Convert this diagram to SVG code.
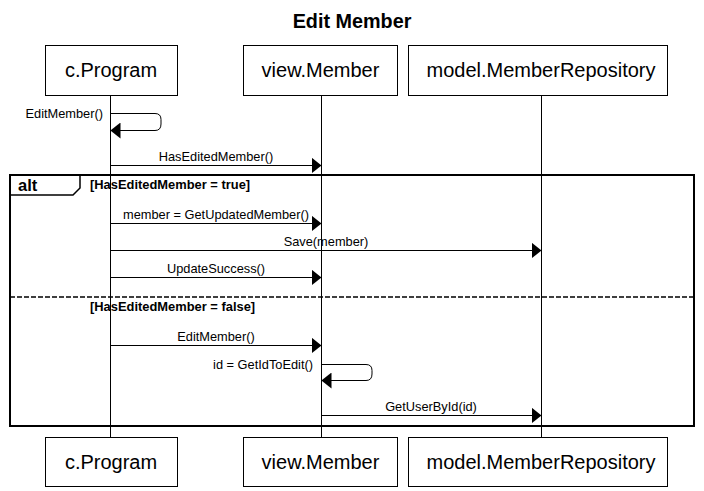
<svg xmlns="http://www.w3.org/2000/svg" width="704" height="491" viewBox="0 0 704 491">
<defs>
<style>
.box{fill:#fff;stroke:#000;stroke-width:1}
.pt{font-family:"Liberation Sans",Arial,sans-serif;font-size:20px;text-anchor:middle;fill:#000}
.life{stroke:#000;stroke-width:1}
.msg{stroke:#000;stroke-width:1;fill:none}
.ml{font-family:"Liberation Sans",Arial,sans-serif;font-size:12.8px;fill:#000;text-anchor:middle}
.guard{font-family:"Liberation Sans",Arial,sans-serif;font-size:12.9px;font-weight:bold;fill:#000}
</style>
<marker id="ah" viewBox="0 0 10 16" refX="10" refY="8" markerWidth="10" markerHeight="16" markerUnits="userSpaceOnUse" orient="auto">
<path d="M0,0 L10,8 L0,16 Z" fill="#000"/>
</marker>
</defs>
<rect width="704" height="491" fill="#fff"/>
<text x="352" y="28" font-family="Liberation Sans,Arial,sans-serif" font-size="19.8" font-weight="bold" text-anchor="middle">Edit Member</text>

<g id="lifelines">
<line class="life" x1="110.5" y1="95" x2="110.5" y2="437"/>
<line class="life" x1="321.5" y1="95" x2="321.5" y2="437"/>
<line class="life" x1="541.5" y1="95" x2="541.5" y2="437"/>
</g>

<g id="cProgram">
<rect class="box" x="45.5" y="45.5" width="132" height="50"/>
<text class="pt" x="111" y="77">c.Program</text>
</g>
<g id="viewMember">
<rect class="box" x="243.5" y="45.5" width="154" height="50"/>
<text class="pt" x="320.5" y="77">view.Member</text>
</g>
<g id="modelMemberRepository">
<rect class="box" x="408.5" y="45.5" width="259" height="50"/>
<text class="pt" x="541" y="77">model.MemberRepository</text>
</g>
<g id="cProgramBottom">
<rect class="box" x="45.5" y="437.5" width="132" height="49"/>
<text class="pt" x="111" y="469">c.Program</text>
</g>
<g id="viewMemberBottom">
<rect class="box" x="243.5" y="437.5" width="154" height="49"/>
<text class="pt" x="320.5" y="469">view.Member</text>
</g>
<g id="modelMemberRepositoryBottom">
<rect class="box" x="408.5" y="437.5" width="259" height="49"/>
<text class="pt" x="541" y="469">model.MemberRepository</text>
</g>

<g id="altFrame">
<rect x="10" y="175" width="684" height="251" fill="none" stroke="#000" stroke-width="2"/>
<path d="M10,175 L80,175 L80,188 L73,195 L10,195" fill="none" stroke="#000" stroke-width="1.5"/>
<text x="18" y="191" font-family="Liberation Sans,Arial,sans-serif" font-size="16.5" font-weight="bold">alt</text>
<text class="guard" x="90" y="189">[HasEditedMember = true]</text>
<line x1="10" y1="297" x2="694" y2="297" stroke="#000" stroke-width="1.5" stroke-dasharray="5,2"/>
<text class="guard" x="90" y="311">[HasEditedMember = false]</text>
</g>

<g id="connectors">
<path class="msg" d="M110.5,113.5 H155 Q161,113.5 161,119.5 V124 Q161,130.5 155,130.5 H110.5" marker-end="url(#ah)"/>
<text class="ml" x="103" y="118" style="text-anchor:end">EditMember()</text>

<line class="msg" x1="110.5" y1="165.5" x2="321.5" y2="165.5" marker-end="url(#ah)"/>
<text class="ml" x="216" y="161">HasEditedMember()</text>

<line class="msg" x1="110.5" y1="223.5" x2="321.5" y2="223.5" marker-end="url(#ah)"/>
<text class="ml" x="216" y="219">member = GetUpdatedMember()</text>

<line class="msg" x1="110.5" y1="250.5" x2="541.5" y2="250.5" marker-end="url(#ah)"/>
<text class="ml" x="326" y="246">Save(member)</text>

<line class="msg" x1="110.5" y1="277.5" x2="321.5" y2="277.5" marker-end="url(#ah)"/>
<text class="ml" x="216" y="273">UpdateSuccess()</text>

<line class="msg" x1="110.5" y1="345.5" x2="321.5" y2="345.5" marker-end="url(#ah)"/>
<text class="ml" x="216" y="341">EditMember()</text>

<path class="msg" d="M321.5,364.5 H366 Q372,364.5 372,370.5 V374 Q372,380.5 366,380.5 H321.5" marker-end="url(#ah)"/>
<text class="ml" x="313" y="369" style="text-anchor:end">id = GetIdToEdit()</text>

<line class="msg" x1="321.5" y1="415.5" x2="541.5" y2="415.5" marker-end="url(#ah)"/>
<text class="ml" x="431" y="411">GetUserById(id)</text>
</g>
</svg>
